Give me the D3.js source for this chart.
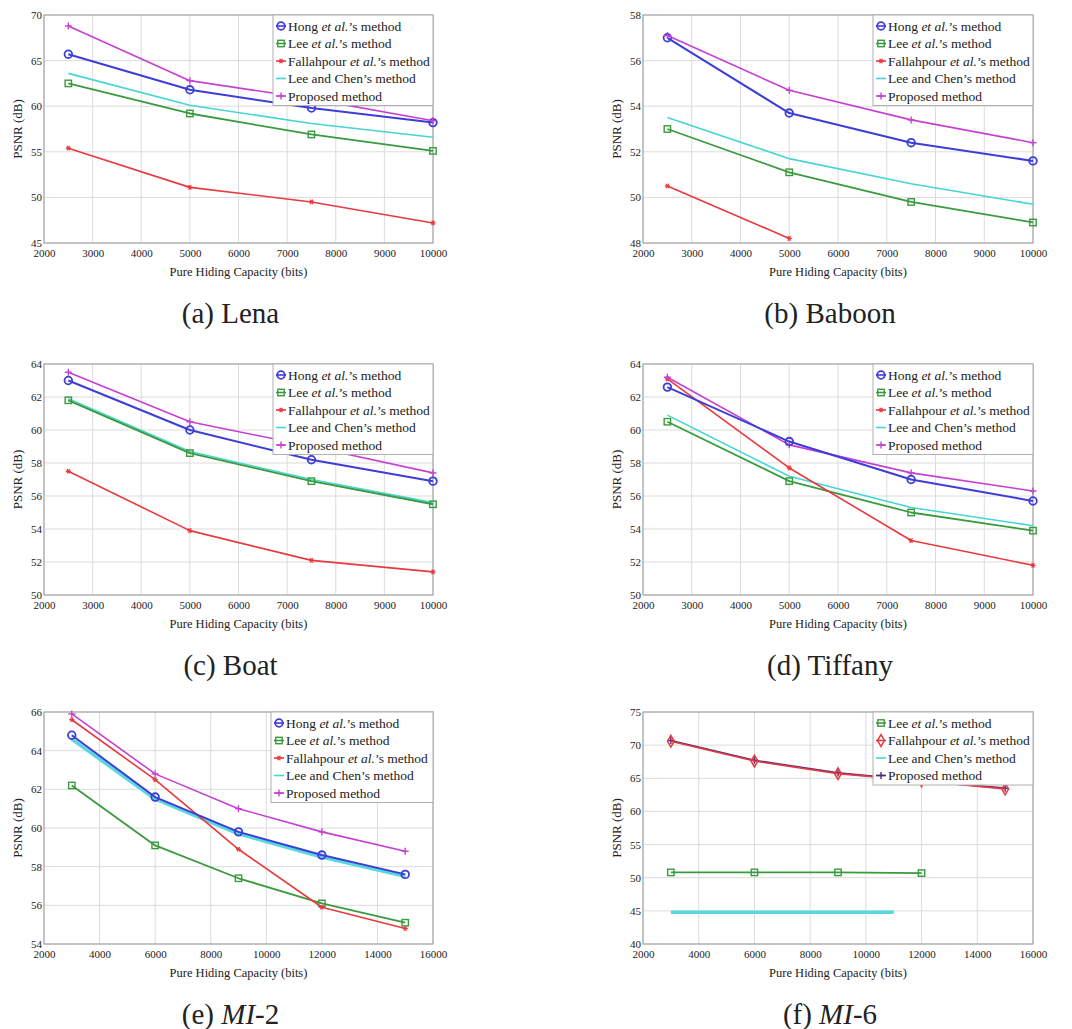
<!DOCTYPE html>
<html><head><meta charset="utf-8">
<script src="https://cdn.jsdelivr.net/npm/d3@7"></script>
<style>
body{margin:0;background:#fff}
svg{display:block}
text{font-family:"Liberation Serif","Times New Roman",serif;fill:#222}
</style>
</head><body>
<svg id="chart" width="1072" height="1029"></svg>
<script>
// ---------- data ----------
const capacity4 = [2500, 5000, 7500, 10000];
const capacity5 = [3000, 6000, 9000, 12000, 15000];
const xTicks10k = [2000, 3000, 4000, 5000, 6000, 7000, 8000, 9000, 10000];
const xTicks16k = [2000, 4000, 6000, 8000, 10000, 12000, 14000, 16000];

// (a) Lena
const lenaTicks = [45, 50, 55, 60, 65, 70];
const lenaHong = [65.7, 61.8, 59.8, 58.2];
const lenaLee = [62.5, 59.2, 56.9, 55.1];
const lenaFallahpour = [55.4, 51.1, 49.5, 47.2];
const lenaLeeChen = [63.6, 60.1, 58.1, 56.6];
const lenaProposed = [68.8, 62.8, 60.8, 58.4];

// (b) Baboon
const baboonTicks = [48, 50, 52, 54, 56, 58];
const baboonHong = [57.0, 53.7, 52.4, 51.6];
const baboonLee = [53.0, 51.1, 49.8, 48.9];
const baboonFallahpourX = [2500, 5000];
const baboonFallahpour = [50.5, 48.2];
const baboonLeeChen = [53.5, 51.7, 50.6, 49.7];
const baboonProposed = [57.1, 54.7, 53.4, 52.4];

// (c) Boat
const boatTicks = [50, 52, 54, 56, 58, 60, 62, 64];
const boatHong = [63.0, 60.0, 58.2, 56.9];
const boatLee = [61.8, 58.6, 56.9, 55.5];
const boatFallahpour = [57.5, 53.9, 52.1, 51.4];
const boatLeeChen = [61.9, 58.7, 57.0, 55.6];
const boatProposed = [63.5, 60.5, 59.0, 57.4];

// (d) Tiffany
const tiffanyTicks = [50, 52, 54, 56, 58, 60, 62, 64];
const tiffanyHong = [62.6, 59.3, 57.0, 55.7];
const tiffanyLee = [60.5, 56.9, 55.0, 53.9];
const tiffanyFallahpour = [63.1, 57.7, 53.3, 51.8];
const tiffanyLeeChen = [60.9, 57.2, 55.3, 54.2];
const tiffanyProposed = [63.2, 59.1, 57.4, 56.3];

// (e) MI-2
const mi2Ticks = [54, 56, 58, 60, 62, 64, 66];
const mi2Hong = [64.8, 61.6, 59.8, 58.6, 57.6];
const mi2Lee = [62.2, 59.1, 57.4, 56.1, 55.1];
const mi2Fallahpour = [65.6, 62.5, 58.9, 55.9, 54.8];
const mi2LeeChen = [64.6, 61.5, 59.7, 58.5, 57.5];
const mi2Proposed = [65.9, 62.8, 61.0, 59.8, 58.8];

// (f) MI-6
const mi6Ticks = [40, 45, 50, 55, 60, 65, 70, 75];
const mi6LeeX = [3000, 6000, 9000, 12000];
const mi6Lee = [50.8, 50.8, 50.8, 50.7];
const mi6Fallahpour = [70.6, 67.6, 65.7, 64.6, 63.4];
const mi6LeeChenX = [3000, 11000];
const mi6LeeChen = [44.8, 44.8];
const mi6Proposed = [70.7, 67.7, 65.8, 64.6, 63.5];

// ---------- styles ----------
const styles = {
  hong:     {color: "#3d3dd8", marker: "circle", width: 2},
  lee:      {color: "#3a9a3e", marker: "square", width: 1.8},
  fall:     {color: "#e8393f", marker: "star",   width: 1.6},
  fallD:    {color: "#e8393f", marker: "diamond", width: 1.6},
  leechen:  {color: "#46d4d4", marker: "none",   width: 1.6},
  leechenW: {color: "#58d8de", marker: "none",   width: 3.5},
  prop:     {color: "#c540d2", marker: "plus",   width: 1.6},
  propD:    {color: "#4a2c7e", marker: "plus",   width: 1.8}
};
const labels = {
  hong: [["Hong ", false], ["et al.", true], ["’s method", false]],
  lee: [["Lee ", false], ["et al.", true], ["’s method", false]],
  fall: [["Fallahpour ", false], ["et al.", true], ["’s method", false]],
  leechen: [["Lee and Chen’s method", false]],
  prop: [["Proposed method", false]]
};

const cols = [[44, 433], [643, 1033]];
const rows = [[15, 243], [364, 595], [712, 944]];

const panels = [
  {title: [["(a) Lena", false]], col: 0, row: 0, xDomain: [2000, 10000], xTicks: xTicks10k, yTicks: lenaTicks,
   series: [["hong", "hong", capacity4, lenaHong], ["lee", "lee", capacity4, lenaLee], ["fall", "fall", capacity4, lenaFallahpour],
            ["leechen", "leechen", capacity4, lenaLeeChen], ["prop", "prop", capacity4, lenaProposed]],
   legend: [["hong", "hong"], ["lee", "lee"], ["fall", "fall"], ["leechen", "leechen"], ["prop", "prop"]], legendW: 160},
  {title: [["(b) Baboon", false]], col: 1, row: 0, xDomain: [2000, 10000], xTicks: xTicks10k, yTicks: baboonTicks,
   series: [["leechen", "leechen", capacity4, baboonLeeChen], ["lee", "lee", capacity4, baboonLee], ["fall", "fall", baboonFallahpourX, baboonFallahpour],
            ["hong", "hong", capacity4, baboonHong], ["prop", "prop", capacity4, baboonProposed]],
   legend: [["hong", "hong"], ["lee", "lee"], ["fall", "fall"], ["leechen", "leechen"], ["prop", "prop"]], legendW: 160},
  {title: [["(c) Boat", false]], col: 0, row: 1, xDomain: [2000, 10000], xTicks: xTicks10k, yTicks: boatTicks,
   series: [["fall", "fall", capacity4, boatFallahpour], ["leechen", "leechen", capacity4, boatLeeChen], ["lee", "lee", capacity4, boatLee],
            ["prop", "prop", capacity4, boatProposed], ["hong", "hong", capacity4, boatHong]],
   legend: [["hong", "hong"], ["lee", "lee"], ["fall", "fall"], ["leechen", "leechen"], ["prop", "prop"]], legendW: 160},
  {title: [["(d) Tiffany", false]], col: 1, row: 1, xDomain: [2000, 10000], xTicks: xTicks10k, yTicks: tiffanyTicks,
   series: [["leechen", "leechen", capacity4, tiffanyLeeChen], ["lee", "lee", capacity4, tiffanyLee], ["fall", "fall", capacity4, tiffanyFallahpour],
            ["prop", "prop", capacity4, tiffanyProposed], ["hong", "hong", capacity4, tiffanyHong]],
   legend: [["hong", "hong"], ["lee", "lee"], ["fall", "fall"], ["leechen", "leechen"], ["prop", "prop"]], legendW: 160},
  {title: [["(e) ", false], ["MI", true], ["-2", false]], col: 0, row: 2, xDomain: [2000, 16000], xTicks: xTicks16k, yTicks: mi2Ticks,
   series: [["leechen", "leechenW", capacity5, mi2LeeChen], ["lee", "lee", capacity5, mi2Lee], ["fall", "fall", capacity5, mi2Fallahpour],
            ["prop", "prop", capacity5, mi2Proposed], ["hong", "hong", capacity5, mi2Hong]],
   legend: [["hong", "hong"], ["lee", "lee"], ["fall", "fall"], ["leechen", "leechen"], ["prop", "prop"]], legendW: 162},
  {title: [["(f) ", false], ["MI", true], ["-6", false]], col: 1, row: 2, xDomain: [2000, 16000], xTicks: xTicks16k, yTicks: mi6Ticks,
   series: [["leechen", "leechenW", mi6LeeChenX, mi6LeeChen], ["lee", "lee", mi6LeeX, mi6Lee],
            ["prop", "propD", capacity5, mi6Proposed], ["fall", "fallD", capacity5, mi6Fallahpour]],
   legend: [["lee", "lee"], ["fall", "fallD"], ["leechen", "leechen"], ["prop", "propD"]], legendW: 160}
];

const svg = d3.select("#chart");

function drawMarker(g, type, x, y, color) {
  if (type === "circle") {
    g.append("circle").attr("cx", x).attr("cy", y).attr("r", 3.8)
      .attr("fill", "none").attr("stroke", color).attr("stroke-width", 1.8);
  } else if (type === "square") {
    g.append("rect").attr("x", x - 3.2).attr("y", y - 3.2).attr("width", 6.4).attr("height", 6.4)
      .attr("fill", "none").attr("stroke", color).attr("stroke-width", 1.4);
  } else if (type === "diamond") {
    g.append("path").attr("d", d3.symbol(d3.symbolDiamond, 40)()).attr("transform", `translate(${x},${y})`)
      .attr("fill", "none").attr("stroke", color).attr("stroke-width", 1.5);
  } else if (type === "star") {
    const s = 2.6;
    [[s, 0], [s * 0.5, s * 0.87], [-s * 0.5, s * 0.87]].forEach(([dx, dy]) => {
      g.append("line").attr("x1", x - dx).attr("y1", y - dy).attr("x2", x + dx).attr("y2", y + dy)
        .attr("stroke", color).attr("stroke-width", 1.3);
    });
  } else if (type === "plus") {
    const s = 3.5;
    g.append("line").attr("x1", x - s).attr("x2", x + s).attr("y1", y).attr("y2", y).attr("stroke", color).attr("stroke-width", 1.4);
    g.append("line").attr("x1", x).attr("x2", x).attr("y1", y - s).attr("y2", y + s).attr("stroke", color).attr("stroke-width", 1.4);
  }
}

function addRich(textSel, parts) {
  parts.forEach(([t, it]) => {
    textSel.append("tspan").text(t).attr("font-style", it ? "italic" : "normal");
  });
}

panels.forEach(p => {
  const [x0, x1] = cols[p.col];
  const [y0, y1] = rows[p.row];
  const yDomain = [p.yTicks[0], p.yTicks[p.yTicks.length - 1]];
  const x = d3.scaleLinear().domain(p.xDomain).range([x0, x1]);
  const y = d3.scaleLinear().domain(yDomain).range([y1, y0]);
  const g = svg.append("g");

  // gridlines
  g.append("g").selectAll("line.vx").data(p.xTicks).join("line")
    .attr("x1", d => x(d)).attr("x2", d => x(d)).attr("y1", y0).attr("y2", y1)
    .attr("stroke", "#dcdcdc").attr("stroke-width", 1);
  g.append("g").selectAll("line.hy").data(p.yTicks).join("line")
    .attr("y1", d => y(d)).attr("y2", d => y(d)).attr("x1", x0).attr("x2", x1)
    .attr("stroke", "#dcdcdc").attr("stroke-width", 1);
  g.append("rect").attr("x", x0).attr("y", y0).attr("width", x1 - x0).attr("height", y1 - y0)
    .attr("fill", "none").attr("stroke", "#9a9a9a").attr("stroke-width", 1);

  // axes (tick labels via d3 axes)
  const xAxis = g.append("g").attr("transform", `translate(0,${y1})`)
    .call(d3.axisBottom(x).tickValues(p.xTicks).tickSize(0).tickPadding(6).tickFormat(d3.format("d")));
  const yAxis = g.append("g").attr("transform", `translate(${x0},0)`)
    .call(d3.axisLeft(y).tickValues(p.yTicks).tickSize(0).tickPadding(2).tickFormat(d3.format("d")));
  [xAxis, yAxis].forEach(a => {
    a.select(".domain").remove();
    a.selectAll("text").attr("font-size", 11).attr("fill", "#333")
      .attr("font-family", '"Liberation Serif","Times New Roman",serif');
  });

  // axis titles
  g.append("text").attr("x", (x0 + x1) / 2).attr("y", y1 + 33).attr("text-anchor", "middle")
    .attr("font-size", 12.5).attr("fill", "#333").text("Pure Hiding Capacity (bits)");
  g.append("text").attr("transform", `translate(${x0 - 22},${(y0 + y1) / 2}) rotate(-90)`)
    .attr("text-anchor", "middle").attr("font-size", 13).attr("fill", "#333").text("PSNR (dB)");

  // series
  const line = d3.line().x(d => x(d[0])).y(d => y(d[1]));
  p.series.forEach(([key, sk, xs, ys]) => {
    const st = styles[sk];
    const pts = xs.map((v, i) => [v, ys[i]]);
    const sg = g.append("g");
    sg.append("path").datum(pts).attr("d", line).attr("fill", "none")
      .attr("stroke", st.color).attr("stroke-width", st.width).attr("stroke-linejoin", "round");
    pts.forEach(d => drawMarker(sg, st.marker, x(d[0]), y(d[1]), st.color));
  });

  // legend
  const lw = p.legendW, rowH = 17.5;
  const lh = p.legend.length * rowH + 3;
  const lx = x1 - lw, ly = y0;
  const lg = g.append("g");
  lg.append("rect").attr("x", lx).attr("y", ly).attr("width", lw).attr("height", lh)
    .attr("fill", "#fff").attr("stroke", "#b0b0b0").attr("stroke-width", 1);
  p.legend.forEach(([lk, sk], i) => {
    const st = styles[sk];
    const cy = ly + 11 + i * rowH;
    lg.append("line").attr("x1", lx + 3).attr("x2", lx + 13).attr("y1", cy).attr("y2", cy)
      .attr("stroke", st.color).attr("stroke-width", 1.6);
    drawMarker(lg, st.marker, lx + 8, cy, st.color);
    const t = lg.append("text").attr("x", lx + 15).attr("y", cy + 4.5).attr("font-size", 13.5).attr("fill", "#333");
    addRich(t, labels[lk]);
  });

  // subtitle
  const st = g.append("text").attr("x", (x0 + x1) / 2 - 8).attr("y", rows[p.row][1] + 80)
    .attr("text-anchor", "middle").attr("font-size", 29).attr("fill", "#111");
  addRich(st, p.title);
});
</script>
</body></html>
